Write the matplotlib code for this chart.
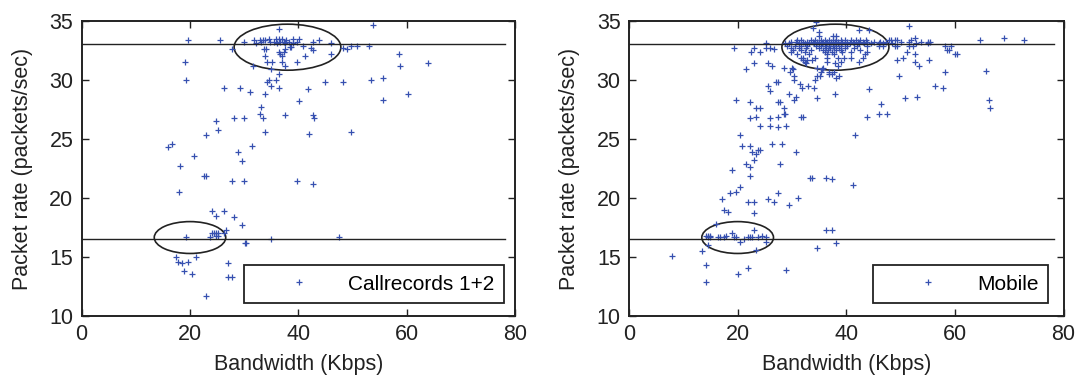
import matplotlib
matplotlib.use('Agg')
import matplotlib.pyplot as plt
from matplotlib.patches import Ellipse

plt.rcParams['font.family'] = ['Liberation Sans', 'DejaVu Sans']
plt.rcParams['font.size'] = 15

# ---- Callrecords 1+2 (bandwidth Kbps, packet rate) ----
call_pts = [
    (53.7, 34.7), (19.6, 33.4), (25.5, 33.4), (29.9, 33.2), (31.8, 33.4), (32.1, 33.1), (33.0, 33.4),
    (33.2, 33.2), (33.5, 33.4), (33.9, 33.4), (34.6, 33.5), (34.8, 33.2), (35.5, 33.2), (35.8, 33.5),
    (36.0, 33.1), (36.4, 34.3), (36.4, 33.5), (36.7, 33.2), (36.9, 33.5), (37.3, 33.2), (37.6, 33.1),
    (37.7, 33.4), (38.2, 33.2), (38.7, 32.8), (39.0, 33.5), (39.1, 33.1), (39.8, 33.2), (40.1, 33.5),
    (40.9, 32.9), (42.4, 32.7), (42.7, 33.2), (42.8, 32.5), (43.8, 33.4), (46.0, 33.1), (46.0, 32.2),
    (48.2, 32.7), (49.0, 32.6), (49.8, 32.9), (50.8, 32.9), (53.0, 32.9), (58.5, 32.2), (58.8, 31.2),
    (64.0, 31.4),
    (27.7, 32.6), (33.7, 32.6), (34.0, 32.6), (33.9, 32.0), (34.3, 31.5), (35.1, 31.5), (36.4, 32.4),
    (36.6, 32.2), (36.9, 32.0), (36.9, 31.5), (37.3, 32.4), (37.6, 31.2), (37.6, 32.6), (38.5, 32.8),
    (39.8, 31.5), (41.2, 32.0), (31.7, 31.2), (35.0, 30.9), (36.5, 30.5),
    (19.0, 31.5), (19.3, 30.0), (26.3, 29.3), (29.2, 29.3), (31.0, 29.0), (33.9, 28.8), (34.2, 29.8),
    (34.5, 30.0), (35.0, 29.5), (35.8, 30.0), (36.5, 29.3), (41.7, 29.2), (40.2, 28.2), (44.9, 29.8),
    (48.3, 29.8), (53.4, 30.0), (55.6, 30.2), (55.6, 28.3), (60.3, 28.8),
    (33.2, 27.7), (32.9, 27.1), (33.4, 26.8), (28.1, 26.8), (29.9, 26.8), (37.6, 27.0), (42.7, 27.0),
    (42.9, 26.8), (24.8, 26.5), (25.2, 25.8), (23.0, 25.3), (33.9, 25.6), (42.0, 25.4), (49.7, 25.6),
    (16.7, 24.6), (16.0, 24.3), (31.4, 24.4), (28.8, 23.9), (20.8, 23.6), (29.6, 23.1), (18.2, 22.7),
    (22.6, 21.9), (22.9, 21.9), (27.7, 21.4), (29.9, 21.4), (39.8, 21.4), (42.8, 21.2), (17.9, 20.5),
    (24.0, 18.9), (24.8, 18.5), (26.3, 18.9), (28.1, 18.4), (29.6, 17.7), (26.6, 17.3), (24.0, 17.0),
    (24.4, 17.0), (24.8, 17.0), (25.2, 17.0), (24.8, 16.8), (25.2, 16.8), (23.7, 16.7), (26.3, 17.0),
    (19.3, 16.7), (30.1, 16.2), (30.3, 16.2), (35.0, 16.5), (47.5, 16.7),
    (17.4, 15.0), (17.8, 14.6), (18.5, 14.5), (19.6, 14.6), (21.1, 15.0), (18.9, 13.8), (20.4, 13.6),
    (27.0, 14.5), (27.0, 13.3), (27.7, 13.3), (22.9, 11.7),
]

# ---- Mobile ----
mob_pts = [
    (19.3, 32.7), (23.0, 32.7), (22.5, 32.4), (24.1, 32.4), (25.2, 33.1), (25.2, 32.7), (25.9, 32.7),
    (26.7, 32.6), (23.0, 31.4), (21.5, 30.9), (25.6, 31.4), (26.3, 31.2), (28.5, 31.0), (30.0, 31.0),
    (30.1, 30.9), (29.6, 30.7), (30.3, 30.3), (30.3, 30.0), (27.1, 29.8), (27.4, 29.8), (25.6, 29.5),
    (25.9, 29.1), (31.4, 29.7), (31.8, 29.3), (32.9, 29.5), (34.0, 29.3), (34.3, 30.0), (34.6, 30.3),
    (35.1, 30.3), (35.4, 30.7), (35.6, 30.9), (36.9, 30.5), (37.3, 30.5), (38.1, 30.2), (38.6, 30.3),
    (37.9, 28.8), (34.7, 28.5), (29.5, 28.8), (30.7, 28.6), (30.3, 28.3), (19.7, 28.3), (22.2, 28.1),
    (27.4, 28.1), (27.8, 28.1), (28.5, 27.6), (23.3, 27.6), (24.1, 27.6), (22.2, 26.8), (23.3, 26.9),
    (28.5, 27.1), (28.7, 27.1), (27.4, 26.9), (25.9, 26.8), (31.7, 26.9), (32.0, 26.9), (24.1, 26.1),
    (25.9, 26.1), (27.4, 26.0), (28.9, 26.1), (20.4, 25.3), (20.8, 24.4), (22.2, 24.4), (22.6, 23.9),
    (23.3, 23.7), (23.7, 24.1), (24.1, 24.1), (26.3, 24.6), (28.1, 24.6), (30.7, 23.9), (23.0, 23.2),
    (21.5, 22.9), (22.2, 22.6), (27.8, 22.9), (18.9, 22.4), (22.2, 21.9), (33.3, 21.7), (33.6, 21.7),
    (36.2, 21.7), (37.3, 21.6), (41.2, 21.1), (20.4, 20.9), (19.7, 20.5), (18.6, 20.4), (17.1, 19.9),
    (21.9, 19.7), (23.0, 19.7), (25.6, 19.9), (26.7, 19.7), (27.4, 20.4), (31.1, 20.0), (29.5, 19.4),
    (17.5, 19.0), (44.2, 29.2), (46.4, 28.0), (46.0, 27.1), (47.5, 27.1), (43.8, 26.9), (41.6, 25.3),
    (34.4, 34.9), (33.9, 34.4), (35.0, 34.1), (42.4, 34.2), (44.2, 34.2),
    # dense cluster near 33 pkt/s
    (30.9, 33.4), (31.6, 33.4), (33.5, 33.4), (34.2, 33.4), (35.3, 33.4), (36.0, 33.4), (36.8, 33.4),
    (37.5, 33.4), (38.1, 33.4), (39.0, 33.4), (39.7, 33.4), (40.8, 33.4), (41.7, 33.4), (42.6, 33.4),
    (43.6, 33.4), (47.8, 33.4), (48.2, 33.4),
    (29.8, 33.2), (30.7, 33.2), (32.0, 33.2), (32.7, 33.2), (33.8, 33.2), (34.7, 33.2), (35.0, 33.2),
    (35.7, 33.2), (36.4, 33.2), (37.1, 33.2), (37.9, 33.2), (38.5, 33.2), (39.3, 33.2), (40.1, 33.2),
    (41.2, 33.2), (42.2, 33.2), (43.0, 33.2), (43.9, 33.2), (45.1, 33.2), (46.3, 33.2), (47.4, 33.2),
    (28.7, 33.1), (29.4, 33.1), (31.3, 33.1), (32.4, 33.1), (33.1, 33.1), (34.1, 33.1), (34.9, 33.1),
    (35.5, 33.1), (36.2, 33.1), (36.9, 33.1), (37.6, 33.1), (38.4, 33.1), (39.1, 33.1), (39.8, 33.1),
    (40.6, 33.1), (41.4, 33.1), (42.4, 33.1), (43.3, 33.1), (44.5, 33.1), (46.0, 33.1), (46.7, 33.1),
    (29.0, 32.9), (30.5, 32.9), (31.6, 32.9), (32.8, 32.9), (34.4, 32.9), (35.3, 32.9), (36.0, 32.9),
    (36.8, 32.9), (37.5, 32.9), (38.2, 32.9), (39.1, 32.9), (40.2, 32.9), (42.0, 32.9), (43.9, 32.9),
    (46.1, 32.9), (46.8, 32.9),
    (29.8, 32.7), (31.3, 32.7), (32.6, 32.7), (35.0, 32.7), (36.3, 32.7), (37.0, 32.7), (37.7, 32.7),
    (38.6, 32.7), (39.7, 32.7), (41.5, 32.7),
    (30.1, 32.5), (31.6, 32.5), (33.5, 32.5), (35.7, 32.5), (36.6, 32.5), (38.1, 32.5), (39.0, 32.5),
    (42.6, 32.5),
    (29.8, 32.4), (32.4, 32.4), (36.0, 32.4), (37.4, 32.4), (39.3, 32.4), (40.8, 32.4), (43.8, 32.4),
    (30.9, 32.2), (33.1, 32.2), (36.5, 32.2), (37.7, 32.2), (43.4, 32.2),
    (31.6, 31.9), (32.1, 31.9), (34.3, 31.9), (36.5, 31.9), (38.5, 31.9), (39.5, 31.9), (40.9, 31.9),
    (43.0, 31.9), (32.0, 31.7), (32.8, 31.7), (33.6, 31.7), (32.4, 31.5), (36.5, 31.5), (39.1, 31.5),
    (42.4, 31.5), (32.6, 31.4), (37.9, 31.4), (38.4, 31.2), (34.7, 31.0), (35.8, 31.0), (36.9, 30.7),
    (37.7, 30.7), (34.9, 33.7), (37.5, 33.7), (38.1, 33.7),
    # right of the cluster
    (51.5, 34.6), (48.9, 33.4), (49.3, 33.4), (50.0, 33.2), (51.5, 33.2), (52.0, 33.4), (52.6, 33.6),
    (53.7, 33.2), (55.1, 33.2), (55.4, 33.2), (48.5, 33.1), (48.9, 32.9), (49.3, 32.9), (51.5, 32.9),
    (52.2, 32.9), (52.9, 33.1), (55.0, 33.1), (58.1, 32.9), (59.2, 32.9), (58.5, 32.5), (58.9, 32.5),
    (60.0, 32.2), (60.4, 32.2), (51.1, 32.4), (52.6, 32.2), (49.3, 31.7), (50.4, 31.9), (52.6, 31.5),
    (53.4, 31.2), (55.2, 31.7), (58.1, 30.7), (49.7, 30.3), (56.3, 29.5), (57.8, 29.3), (50.8, 28.5),
    (53.0, 28.6), (64.7, 33.4), (69.1, 33.6), (72.8, 33.4), (65.8, 30.8), (66.2, 28.3), (66.5, 27.6),
    # low group near 16.5 pkt/s
    (18.2, 18.8), (23.0, 18.7), (16.0, 17.8),
    (14.2, 16.8), (14.5, 16.8), (14.9, 16.8), (14.5, 16.7), (14.9, 16.7), (16.4, 16.7), (16.7, 16.7),
    (17.5, 16.7), (17.8, 16.8), (18.9, 17.0), (19.3, 16.7), (19.7, 16.7), (20.4, 16.3), (21.1, 16.5),
    (21.9, 16.7), (22.2, 16.7), (22.6, 16.7), (23.0, 17.3), (23.7, 16.7), (24.4, 16.8), (25.2, 16.7),
    (25.2, 16.3), (23.3, 15.6), (14.5, 16.0), (13.4, 15.5),
    (7.9, 15.1), (14.2, 14.3), (14.2, 12.9), (20.0, 13.6), (21.9, 14.1), (28.9, 13.9), (34.7, 15.8),
    (36.2, 17.3), (37.3, 17.3), (38.1, 16.2),
]

upper_rate = 33.06
lower_rate = 16.55
line_end = 78.2

panels = [
    (call_pts, 'Callrecords 1+2', [0.0759, 0.1662, 0.4027, 0.7784], (0.374, 0.044)),
    (mob_pts, 'Mobile', [0.5846, 0.1662, 0.4038, 0.7784], (0.561, 0.044)),
]

fig = plt.figure(figsize=(10.76, 3.79), dpi=100)
for pts, name, rect, leg_at in panels:
    ax = fig.add_axes(rect)
    xs = [p[0] for p in pts]
    ys = [p[1] for p in pts]
    ax.plot(xs, ys, '+', color='#3650b0', ms=5, mew=0.9, label=name)
    ax.plot([0, line_end], [upper_rate, upper_rate], color='#222222', lw=1.0)
    ax.plot([0, line_end], [lower_rate, lower_rate], color='#222222', lw=1.0)
    ax.add_patch(Ellipse((38.0, 32.78), 19.7, 3.9, fill=False, ec='#222222', lw=1.2))
    ax.add_patch(Ellipse((20.0, 16.65), 13.2, 2.7, fill=False, ec='#222222', lw=1.2))
    ax.set_xlim(0, 80)
    ax.set_ylim(10, 35)
    ax.set_xticks([0, 20, 40, 60, 80])
    ax.set_yticks([10, 15, 20, 25, 30, 35])
    ax.tick_params(direction='in', top=True, right=True, length=5, width=1.0,
                   labelsize=15.5, colors='#222222', pad=6)
    for s in ax.spines.values():
        s.set_linewidth(1.4)
        s.set_color('#222222')
    ax.set_xlabel('Bandwidth (Kbps)', fontsize=15.5, labelpad=6, color='#222222')
    ax.set_ylabel('Packet rate (packets/sec)', fontsize=15.5, labelpad=12, color='#222222')
    leg = ax.legend(loc='lower left', bbox_to_anchor=leg_at, numpoints=1,
                    handlelength=4.4, handletextpad=0.15, borderpad=0.45,
                    borderaxespad=0, fancybox=False, framealpha=1, fontsize=15)
    leg.get_frame().set_edgecolor('#222222')
    leg.get_frame().set_linewidth(1.3)

fig.savefig('out.png', dpi=100)
